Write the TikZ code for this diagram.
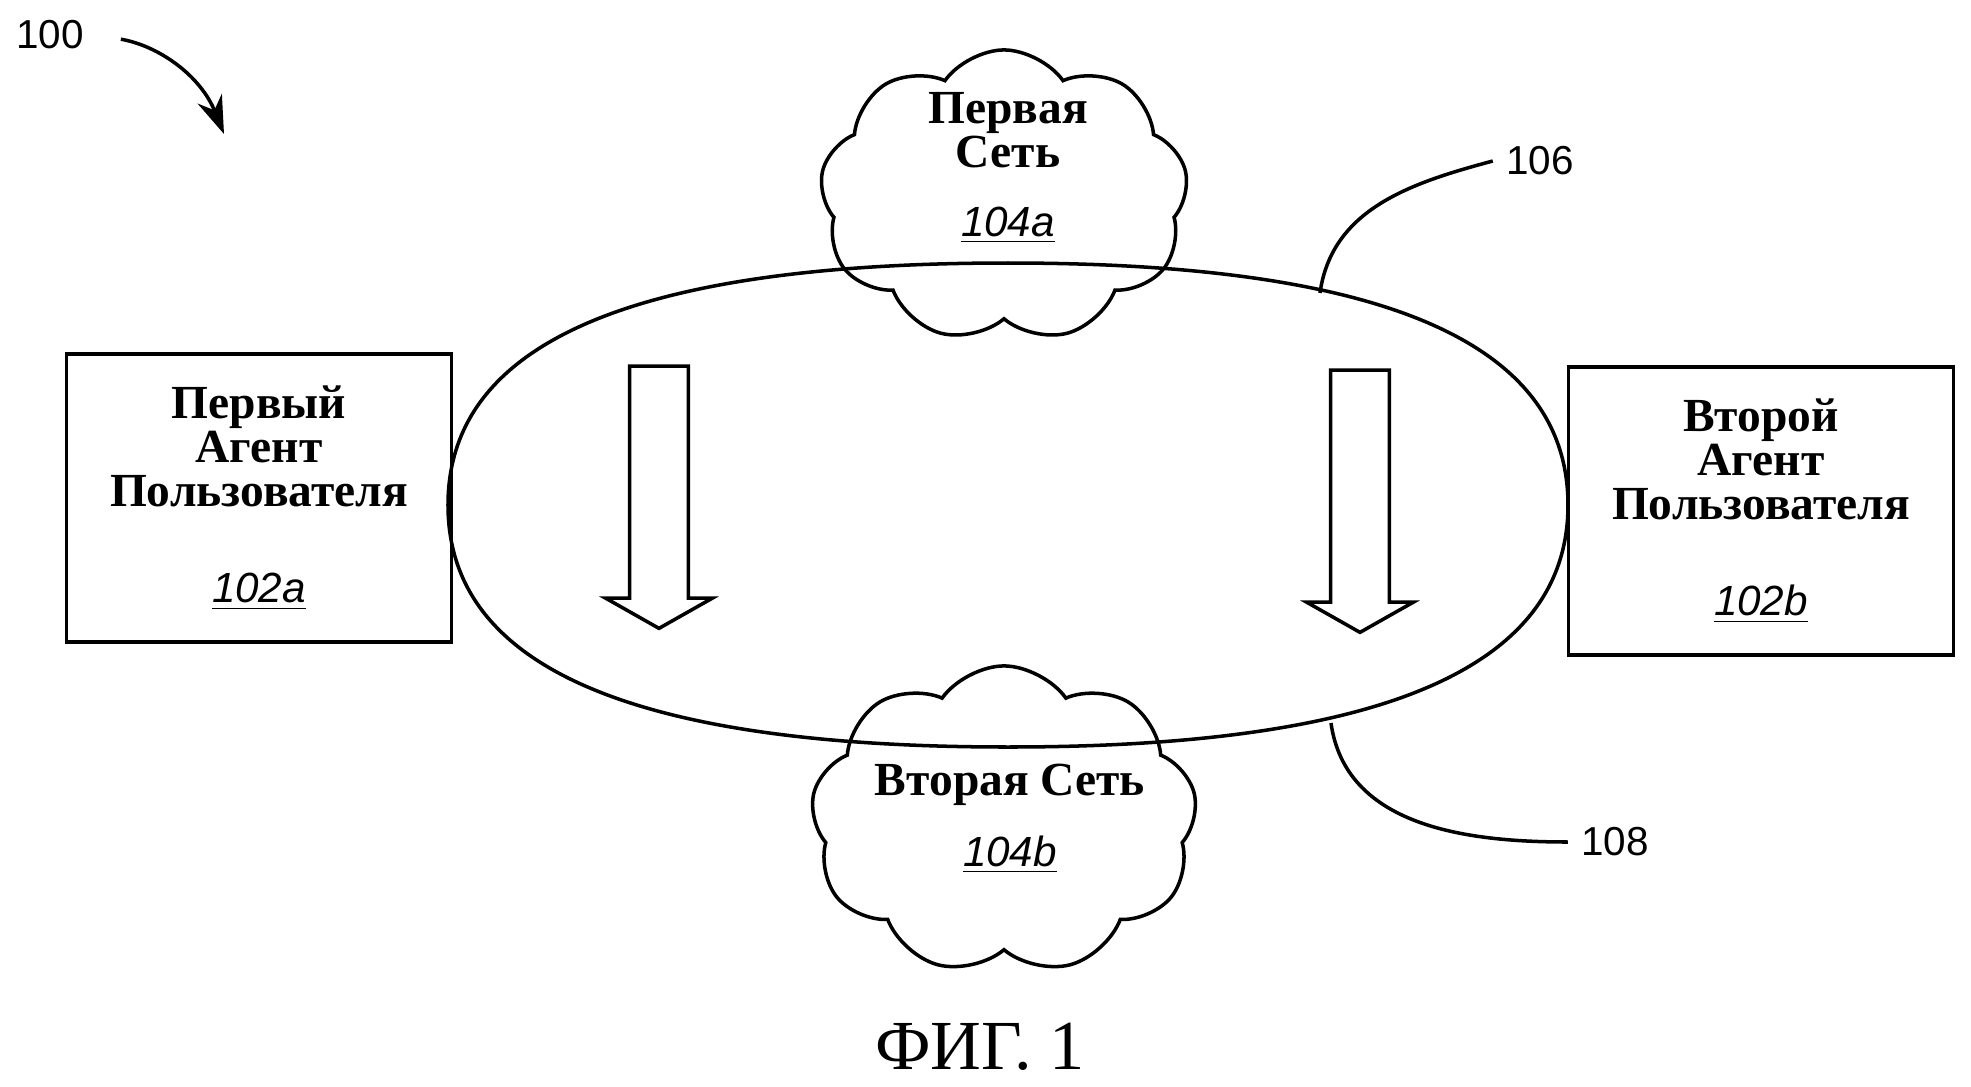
\documentclass[tikz,border=0pt]{standalone}
\usepackage{fontspec}
\setmainfont{Liberation Serif}
\setsansfont{Liberation Sans}
\usepackage{tikz}
\usetikzlibrary{positioning}
\usetikzlibrary{shapes.symbols,shapes.arrows}
\usetikzlibrary{arrows.meta}

\newcommand{\partnum}[1]{{\fontsize{12}{12}\selectfont\sffamily\mdseries\itshape\underline{#1}}}

\begin{document}
\begin{tikzpicture}[x=0.01cm, y=-0.01cm, line width=1pt,
        agent/.style={shape=rectangle, draw=black, minimum width=3.85cm, minimum height=2.88cm, align=center, font=\fontsize{13.5}{12.5}\selectfont\bfseries},
        net/.style={shape=cloud, draw=black, cloud puffs=9, cloud puff arc=110, aspect=1.25},
        nettext/.style={align=center, font=\fontsize{13.5}{12.5}\selectfont\bfseries},
        callout/.style={font=\fontsize{11.5}{12}\selectfont\sffamily},
        flow/.style={shape=single arrow, draw=black, shape border rotate=270, minimum height=2.62cm, minimum width=1.05cm, single arrow head extend=0.24cm, single arrow tip angle=121, inner xsep=0.275cm, inner ysep=0pt}]
        \useasboundingbox (0,0) rectangle (1971,1087);

        % session ring
        \draw (448,505) .. controls (448,343) and (632,263) .. (1008,263)
              .. controls (1384,263) and (1568,343) .. (1568,505)
              .. controls (1568,667) and (1384,747) .. (1008,747)
              .. controls (632,747) and (448,667) .. (448,505);
        \coordinate (ring106) at (1320,293);
        \coordinate (ring108) at (1331,723);

        % user agents
        \node (agentA) at (259,498) [agent] {Первый\\Агент\\Пользователя\\[15pt]\partnum{102a}};
        \node (agentB) at (1761,511) [agent] {Второй\\Агент\\Пользователя\\[15pt]\partnum{102b}};

        % networks
        \node (netA) at (1004,196) [net, minimum width=3.68cm, minimum height=2.92cm] {};
        \node (netAtext) at (1008,168) [nettext] {Первая\\Сеть\\[7pt]\partnum{104a}};
        \node (netB) at (1004,820) [net, minimum width=3.86cm, minimum height=3.08cm] {};
        \node (netBtext) at (1010,819) [nettext] {Вторая Сеть\\[7.5pt]\partnum{104b}};

        % flow arrows
        \node (flowA) at (659,489) [flow] {};
        \node (flowB) at (1360,493) [flow] {};

        % callouts
        \node (l100) at (50,35) [callout] {100};
        \node (l106) at (1540,161) [callout] {106};
        \node (l108) at (1615,842) [callout] {108};
        \coordinate (tip100) at (224,134);

        \draw[-{Stealth[length=0.38cm, width=0.26cm]}, shorten <=0.24cm] (l100.east) to[out=-10, in=112] (tip100);
        \draw (ring106) to[out=82, in=195] (l106.west);
        \draw (ring108) to[out=-82, in=180] (l108.west);

        % caption
        \node (fig) at (980,1047) [font=\fontsize{20}{24}\selectfont] {ФИГ. 1};
    \end{tikzpicture}
\end{document}
